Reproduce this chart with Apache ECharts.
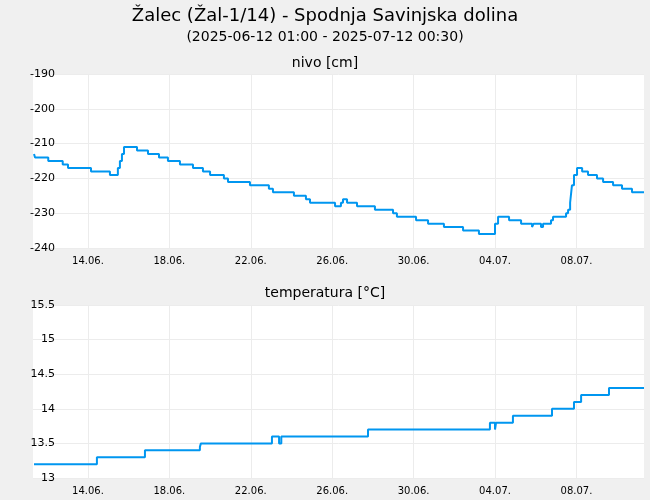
<!DOCTYPE html>
<html><head><meta charset="utf-8">
<script src="https://cdn.jsdelivr.net/npm/echarts@6/dist/echarts.min.js"></script>
<style>html,body{margin:0;background:#f0f0f0}#c{width:650px;height:500px}</style>
</head><body><div id="c"></div>
<script>
// x values: days since 2025-06-12 00:00
const tickDays = [2, 6, 10, 14, 18, 22, 26];
const tickLabels = ['14.06.', '18.06.', '22.06.', '26.06.', '30.06.', '04.07.', '08.07.'];
const levelData = [[-0.65,-213],[-0.60,-214],[0.05,-215],[0.76,-216],[1.02,-217],[2.15,-218],[3.08,-219],[3.47,-217],[3.57,-215],[3.67,-213],[3.77,-211],[4.41,-212],[4.95,-213],[5.49,-214],[5.93,-215],[6.52,-216],[7.16,-217],[7.65,-218],[8.0,-219],[8.68,-220],[8.88,-221],[9.96,-222],[10.89,-223],[11.09,-224],[12.12,-225],[12.71,-226],[12.91,-227],[14.14,-228],[14.43,-227],[14.53,-226],[14.73,-227],[15.22,-228],[16.10,-229],[16.99,-230],[17.18,-231],[18.12,-232],[18.71,-233],[19.49,-234],[20.43,-235],[21.21,-236],[22.0,-233],[22.15,-231],[22.69,-232],[23.28,-233],[23.82,-234],[23.9,-233],[24.26,-234],[24.36,-233],[24.75,-232],[24.85,-231],[25.49,-230],[25.59,-229],[25.69,-227],[25.78,-222],[25.88,-219],[26.03,-217],[26.28,-218],[26.57,-219],[27.01,-220],[27.31,-221],[27.80,-222],[28.24,-223],[28.73,-224],[29.32,-224]];
const tempData = [[-0.65,13.2],[2.44,13.3],[4.80,13.4],[7.5,13.45],[7.55,13.5],[11.04,13.6],[11.39,13.5],[11.5,13.6],[15.76,13.7],[21.75,13.8],[22.0,13.7],[22.05,13.8],[22.88,13.9],[24.8,14.0],[25.88,14.1],[26.23,14.2],[27.6,14.3],[29.32,14.3]];
const xMin = -0.70, xMax = 29.32;
const font = 'DejaVu Sans';
const chart = echarts.init(document.getElementById('c'));
function xAxis(i){return {type:'value',gridIndex:i,min:xMin,max:xMax,
  axisLine:{show:false},axisTick:{show:false,customValues:tickDays},
  splitLine:{show:true,lineStyle:{color:'#ececec'}},
  axisLabel:{customValues:tickDays,fontFamily:font,fontSize:10,color:'#000',
    formatter:v=>tickLabels[tickDays.indexOf(Math.round(v))]||''}};}
function yAxis(i,min,max,iv){return {type:'value',gridIndex:i,min:min,max:max,interval:iv,
  axisLine:{show:false},axisTick:{show:false},
  splitLine:{lineStyle:{color:'#ececec'}},
  axisLabel:{fontFamily:font,fontSize:11,color:'#000',margin:6,align:'right',padding:[0,-28,0,0],
   verticalAlign:'middle'}};}
chart.setOption({
  backgroundColor:'#f0f0f0',animation:false,
  title:[
    {text:'Žalec (Žal-1/14) - Spodnja Savinjska dolina',left:'center',top:2,textStyle:{fontFamily:font,fontSize:18,fontWeight:'normal',color:'#000'}},
    {text:'(2025-06-12 01:00 - 2025-07-12 00:30)',left:'center',top:25,textStyle:{fontFamily:font,fontSize:14,fontWeight:'normal',color:'#000'}},
    {text:'nivo [cm]',left:'center',top:51,textStyle:{fontFamily:font,fontSize:14,fontWeight:'normal',color:'#000'}},
    {text:'temperatura [°C]',left:'center',top:281,textStyle:{fontFamily:font,fontSize:14,fontWeight:'normal',color:'#000'}}
  ],
  grid:[
    {left:33,right:6,top:74,height:174,backgroundColor:'#fff',show:true,borderWidth:0},
    {left:33,right:6,top:305,height:173,backgroundColor:'#fff',show:true,borderWidth:0}
  ],
  xAxis:[xAxis(0),xAxis(1)],
  yAxis:[yAxis(0,-240,-190,10),yAxis(1,13,15.5,0.5)],
  series:[
    {type:'line',xAxisIndex:0,yAxisIndex:0,data:levelData,step:'end',showSymbol:false,lineStyle:{color:'#0096f0',width:2}},
    {type:'line',xAxisIndex:1,yAxisIndex:1,data:tempData,step:'end',showSymbol:false,lineStyle:{color:'#0096f0',width:2}}
  ]
});
</script></body></html>
